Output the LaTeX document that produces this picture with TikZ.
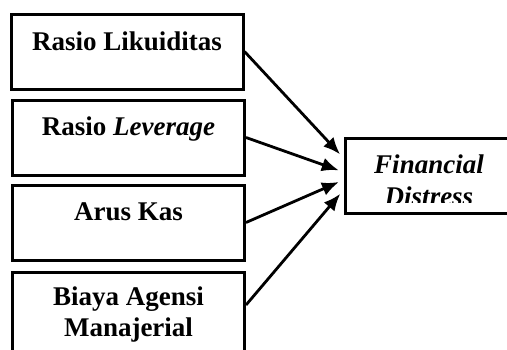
\documentclass[tikz,border=0pt]{standalone}
\usepackage{fontspec}
\setmainfont{Liberation Serif}
\usetikzlibrary{arrows.meta}

\begin{document}
\begin{tikzpicture}[x=1pt,y=-1pt,>={Latex[length=17pt,width=14pt]},
  varbox/.style={draw,line width=3pt,minimum width=232pt,minimum height=75pt,inner sep=0pt},
  vartext/.style={font=\fontsize{27}{31}\selectfont\bfseries,align=center,anchor=base,inner sep=0pt},
  link/.style={->,line width=2.8pt,shorten >=5pt}]

        % page frame
        \useasboundingbox (0,0) rectangle (507,349);
        \clip (0,0) rectangle (507,349);

        % independent variables
        \node[varbox] (liq) at (127,51.5) {};
        \node[varbox] (lev) at (128.5,137.5) {};
        \node[varbox] (arus) at (128.5,222.5) {};
        \node[varbox,minimum height=100pt] (agensi) at (128.5,322) {};

        \node[vartext] (liqtxt) at ([yshift=-38pt]liq.north) {Rasio Likuiditas};
        \node[vartext] (levtxt) at ([yshift=-37pt]lev.north) {Rasio \textit{Leverage}};
        \node[vartext] (arustxt) at ([yshift=-37pt]arus.north) {Arus Kas};
        \node[vartext] (agensitxt) at ([yshift=-66pt]agensi.north) {Biaya Agensi\\Manajerial};

        % dependent variable
        \node[varbox,minimum width=168pt] (fd) at (429,175.5) {};
        \begin{scope}
          \clip (340,138) rectangle (507,202);
          \node[vartext,font=\fontsize{27}{32}\selectfont\bfseries\itshape] (fdtxt)
            at ([yshift=-69pt]fd.north) {Financial\\Distress};
        \end{scope}

        % arrows to financial distress
        \coordinate (agensiout) at ([yshift=17pt]agensi.east);
        \draw[link] (liq.east) -- ([yshift=17.5pt]fd.west);
        \draw[link] (lev.east) -- ([yshift=3.5pt]fd.west);
        \draw[link] (arus.east) -- ([yshift=-4.5pt]fd.west);
        \draw[link] (agensiout) -- ([yshift=-14.5pt]fd.west);

\end{tikzpicture}
\end{document}
